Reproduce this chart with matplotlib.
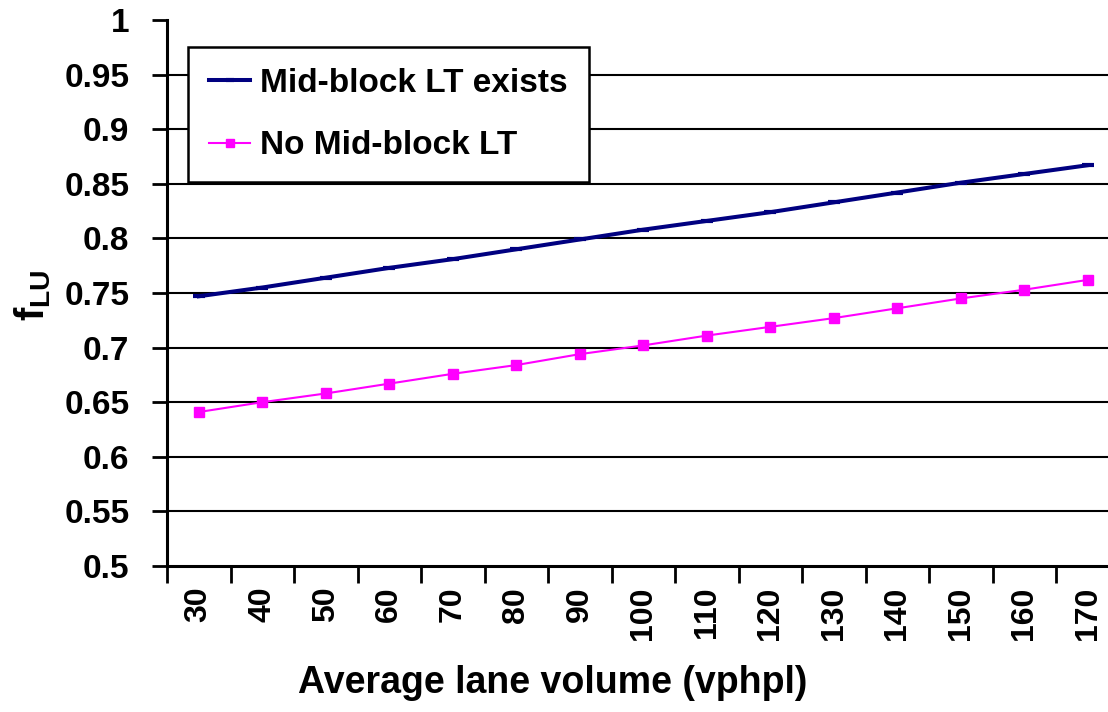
"""Lane utilization factor vs. average lane volume, with and without mid-block left turns."""

import matplotlib

matplotlib.use("Agg")
import matplotlib.pyplot as plt  # noqa: E402
import numpy as np  # noqa: E402

volumes = [30, 40, 50, 60, 70, 80, 90, 100, 110, 120, 130, 140, 150, 160, 170]
f_lu_midblock = [0.747, 0.755, 0.764, 0.773, 0.781, 0.790, 0.799, 0.808,
                 0.816, 0.824, 0.833, 0.842, 0.851, 0.859, 0.867]
f_lu_no_midblock = [0.641, 0.650, 0.658, 0.667, 0.676, 0.684, 0.694, 0.702,
                    0.711, 0.719, 0.727, 0.736, 0.745, 0.753, 0.762]
y_ticks = [0.5, 0.55, 0.6, 0.65, 0.7, 0.75, 0.8, 0.85, 0.9, 0.95, 1.0]

plt.rcParams["font.family"] = ["Liberation Sans", "DejaVu Sans"]
plt.rcParams["font.weight"] = "bold"
plt.rcParams["mathtext.fontset"] = "custom"
plt.rcParams["mathtext.bf"] = "Liberation Sans:bold"
plt.rcParams["mathtext.rm"] = "Liberation Sans:bold"

fig = plt.figure(figsize=(11.08, 7.12), dpi=100)
W, H = 1108, 712
ax = fig.add_axes([167 / W, 1 - 566 / H, (1119.5 - 167) / W, (566 - 20) / H])

x = np.arange(len(volumes))
ax.plot(x, f_lu_midblock, color="#000080", lw=2.9, marker="_", ms=8, mew=3,
        label="Mid-block LT exists", zorder=4)
ax.plot(x, f_lu_no_midblock, color="#FF00FF", lw=1.5, marker="s", ms=7.5,
        mfc="#FF00FF", mec="#FF00FF", label="No Mid-block LT", zorder=4)

ax.set_xlim(-0.5, len(volumes) - 0.5)
ax.set_ylim(0.5, 1.0)

# category labels sit between the tick marks
ax.set_xticks(np.arange(-0.5, len(volumes)), minor=False)
ax.set_xticklabels([])
ax.set_xticks(x, minor=True)
ax.set_xticklabels([str(v) for v in volumes], minor=True, rotation=90,
                   fontsize=23, fontweight="bold")
ax.tick_params(axis="x", which="major", length=12, width=2, direction="out")
ax.tick_params(axis="x", which="minor", length=0, pad=15)

ax.set_yticks(y_ticks)
ax.set_yticklabels([f"{t:g}" for t in y_ticks], fontsize=24, fontweight="bold")
ax.tick_params(axis="y", length=11, width=2, direction="out", pad=16)

for t in y_ticks[1:-1]:
    ax.axhline(t, color="black", lw=1.5, zorder=1)

for side in ("top", "right"):
    ax.spines[side].set_visible(False)
for side in ("left", "bottom"):
    ax.spines[side].set_linewidth(2.2)

ax.set_xlabel("Average lane volume (vphpl)", fontsize=27, fontweight="bold")
ax.xaxis.set_label_coords((553 - 167) / 952.5, -(683 - 566) / 546, transform=ax.transAxes)
ax.xaxis.label.set_va("center")
ax.set_ylabel(r"$\mathbf{f_{LU}}$", fontsize=29)
ax.yaxis.set_label_coords(-(167 - 33) / 952.5, (566 - 295) / 546, transform=ax.transAxes)
ax.yaxis.label.set_va("center")

leg = ax.legend(loc="upper left", bbox_to_anchor=(188 / W, 1 - 47 / H),
                bbox_transform=fig.transFigure, borderaxespad=0,
                prop={"size": 24, "weight": "bold"}, handlelength=1.25,
                handletextpad=0.3, labelspacing=0.95, borderpad=0.62,
                fancybox=False, framealpha=1, edgecolor="black")
leg.get_frame().set_linewidth(1.8)
for h in leg.legend_handles:
    h.set_markersize(6)

fig.savefig("out.png", dpi=100)
